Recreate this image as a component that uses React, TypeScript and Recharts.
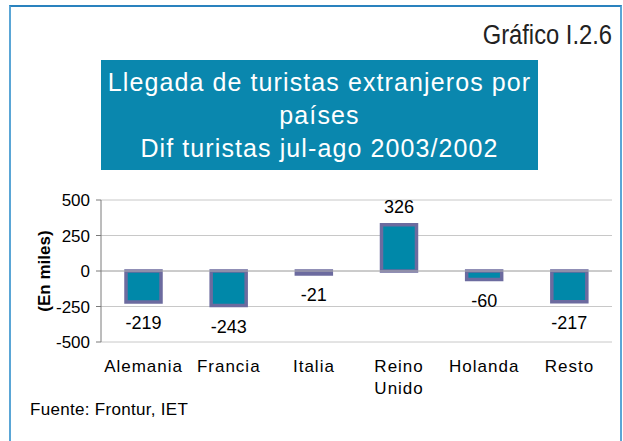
import { BarChart, Bar, XAxis, YAxis, CartesianGrid, ReferenceLine, LabelList } from "recharts";

const countries = ["Alemania", "Francia", "Italia", "Reino Unido", "Holanda", "Resto"];
const diffValues = [-219, -243, -21, 326, -60, -217];
const yTicks = [-500, -250, 0, 250, 500];

const FONT = '"Liberation Sans", Arial, sans-serif';

const chartData = countries.map((name, i) => ({ name, value: diffValues[i] }));

function CountryTick(props: any) {
  const { x, y, payload } = props;
  const words = payload.value === "Reino Unido" ? ["Reino", "Unido"] : [payload.value];
  return (
    <text x={x} y={y} textAnchor="middle" fontFamily={FONT} fontSize={17} fill="#000" letterSpacing={1}>
      {words.map((w, i) => (
        <tspan key={w} x={x} dy={i === 0 ? 22 : 22}>
          {w}
        </tspan>
      ))}
    </text>
  );
}

function ValueLabel(props: any) {
  const { x, y, width, height, value } = props;
  const top = Math.min(y, y + height);
  const bottom = Math.max(y, y + height);
  const cy = value < 0 ? bottom + 21 : top - 18;
  return (
    <text x={x + width / 2} y={cy} dy={6} textAnchor="middle" fontFamily={FONT} fontSize={18} fill="#000">
      {value}
    </text>
  );
}

export default function App() {
  return (
    <div style={{ position: "absolute", left: 0, top: 0, width: 623, height: 441, background: "#fff", fontFamily: FONT }}>
      <div
        style={{
          position: "absolute",
          left: 9,
          top: 5,
          width: 609,
          height: 440,
          borderLeft: "2px solid #5aa6d6",
          borderTop: "2px solid #2a82be",
          borderRight: "2px solid #5aa6d6",
        }}
      />
      <div
        style={{
          position: "absolute",
          right: 11,
          top: 20,
          fontSize: 27,
          color: "#222",
          transform: "scaleX(0.88)",
          transformOrigin: "right center",
          whiteSpace: "nowrap",
        }}
      >
        Gráfico I.2.6
      </div>
      <div
        style={{
          position: "absolute",
          left: 101,
          top: 60,
          width: 437,
          height: 110,
          background: "#0a87ae",
          color: "#fff",
          fontSize: 25,
          lineHeight: "33px",
          letterSpacing: 1.1,
          textAlign: "center",
          paddingTop: 6,
          boxSizing: "border-box",
          whiteSpace: "nowrap",
        }}
      >
        Llegada de turistas extranjeros por
        <br />
        países
        <br />
        Dif turistas jul-ago 2003/2002
      </div>
      <div style={{ position: "absolute", left: 0, top: 0 }}>
        <BarChart width={623} height={441} data={chartData} margin={{ top: 200, right: 11, bottom: 69, left: 0 }}>
          <CartesianGrid vertical={false} stroke="#c8c8c8" />
          <XAxis dataKey="name" height={30} axisLine={false} tickLine={false} tick={<CountryTick />} interval={0} />
          <YAxis
            width={101}
            domain={[-500, 500]}
            ticks={yTicks}
            axisLine={{ stroke: "#7a7a7a" }}
            tickLine={{ stroke: "#7a7a7a" }}
            tickSize={5}
            tickMargin={6}
            tick={{ fontSize: 17, fill: "#000", fontFamily: FONT }}
            label={{
              value: "(En miles)",
              angle: -90,
              position: "insideLeft",
              offset: 44,
              style: { fontSize: 17, fontWeight: "bold", fill: "#000", fontFamily: FONT, textAnchor: "middle" },
            }}
          />
          <ReferenceLine y={0} stroke="#b4b4b4" />
          <Bar dataKey="value" barSize={35} fill="#0088a9" stroke="#6c6b9f" strokeWidth={3.5} isAnimationActive={false}>
            <LabelList dataKey="value" content={<ValueLabel />} />
          </Bar>
        </BarChart>
      </div>
      <div style={{ position: "absolute", left: 30, top: 400, fontSize: 17, letterSpacing: 0.3, color: "#000" }}>
        Fuente: Frontur, IET
      </div>
    </div>
  );
}
